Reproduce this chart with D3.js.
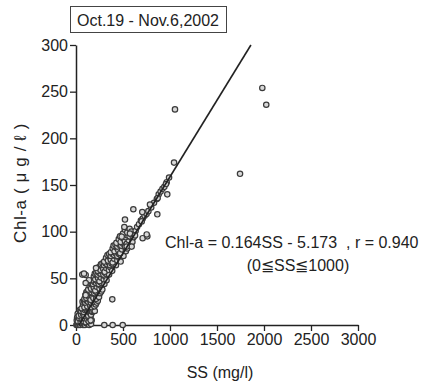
<!DOCTYPE html>
<html><head><meta charset="utf-8">
<script src="https://cdn.jsdelivr.net/npm/d3@7"></script>
<style>body{margin:0;background:#fff}svg{display:block}text{font-family:"Liberation Sans",Arial,sans-serif;fill:#222}</style>
</head><body>
<svg id="c" width="443" height="383"></svg>
<script>
const title = "Oct.19 - Nov.6,2002";
const xTicks = [0, 500, 1000, 1500, 2000, 2500, 3000];
const yTicks = [0, 50, 100, 150, 200, 250, 300];
const xLabel = "SS (mg/l)";
const yLabel = "Chl-a ( \u03BC g / \u2113 )";
const eqLine1 = "Chl-a = 0.164SS - 5.173  , r = 0.940";
const eqLine2 = "(0\u2266SS\u22661000)";
const slope = 0.164, intercept = -5.173;
// SS (mg/l)
const ss = [
 5,10,15,20,25,35,45,55,65,75,85,95,110,125,140,150,160,
 8,12,18,22,30,40,50,60,70,80,90,100,115,130,145,155,167,
 20,35,50,62,78,88,105,120,135,148,
 30,45,55,65,75,90,100,115,130,145,160,175,
 40,52,68,82,95,110,125,140,155,170,185,200,
 60,75,90,105,120,135,150,165,180,195,210,
 70,85,98,112,128,142,158,172,188,205,220,232,
 90,100,110,125,140,155,170,185,200,215,230,245,
 110,122,135,150,165,180,195,210,225,240,255,268,
 130,145,160,175,190,205,220,235,250,265,280,
 150,165,180,195,212,228,242,258,272,288,302,
 175,190,205,220,235,250,265,280,295,310,325,
 200,215,230,245,262,278,292,308,322,338,352,
 230,245,260,275,290,305,320,335,350,365,385,
 265,282,298,315,330,347,362,378,395,410,425,
 300,320,340,355,370,390,405,420,440,460,475,
 335,352,370,388,405,422,440,458,475,492,505,
 370,390,410,430,450,470,490,510,530,545,
 400,420,440,462,482,502,522,542,560,
 430,455,475,500,520,540,560,585,600,
 480,500,525,548,570,590,612,
 500,520,545,570,590,615,635,
 650,670,690,710,730,750,770,800,830,860,880,900,920,940,965,990,
 67,103,85,138,103,103,213,386,301,390,497,156,468,592,709,759,699,705,610,521,865,787,869,971,957,1043,1053,1745,1982,2024,
 486,539,574,628,752,514
];
// Chl-a (ug/l)
const chl = [
 0,1,0.5,2,0,1,0,2,1,0,1,0,2,1,0,3,1,
 5,8,12,6,4,3,6,4,8,5,3,7,5,6,8,6,5,
 4,7,3,6,4,7,3,6,4,7,
 10,14,11,15,12,10,14,12,10,13,11,14,
 16,15,17,14,16,17,15,16,17,15,16,15,
 18,22,19,23,20,24,21,19,23,20,22,
 25,26,24,26,25,27,24,26,25,27,24,26,
 28,32,29,33,30,27,31,29,33,28,31,30,
 35,36,34,36,35,37,34,36,35,37,34,36,
 38,42,39,43,40,37,41,44,39,42,38,
 45,46,44,46,45,47,44,46,45,47,44,
 48,52,49,53,50,47,51,54,49,52,48,
 55,56,54,56,55,57,54,56,55,57,54,
 58,62,59,63,60,57,61,64,59,62,58,
 65,66,64,66,65,67,64,66,65,67,64,
 68,72,69,73,70,67,71,74,69,72,68,
 75,76,74,76,75,77,74,76,75,77,74,
 78,82,79,83,80,77,81,84,79,82,
 85,86,84,86,85,87,84,86,85,
 88,92,89,93,90,87,91,94,89,
 95,96,94,96,95,97,94,
 98,102,99,103,100,97,101,
 105,108,112,114,117,119,122,126,131,135,140,143,146,148,153,158,
 54,53.6,55,48,45,32,61,27.5,0,0,0,5,95,84,93,95,111,121,124,113,118.6,129,136,140,151,174,231,162,254,236,
 94.6,84,98,96,97,105
];

const svg = d3.select("#c");
const x = d3.scaleLinear().domain([0, 3000]).range([76, 358]);
const y = d3.scaleLinear().domain([0, 300]).range([325, 45]);

// title box
const tb = svg.append("g");
tb.append("rect").attr("x", 70.5).attr("y", 6.5).attr("width", 156).attr("height", 26)
  .attr("fill", "none").attr("stroke", "#444").attr("stroke-width", 1);
tb.append("text").attr("x", 148).attr("y", 25.5).attr("text-anchor", "middle")
  .attr("font-size", 16).text(title);

// axes
const fmt = d3.format("d");
const xAxis = d3.axisBottom(x).tickValues(xTicks).tickFormat(fmt).tickSize(6).tickPadding(3).tickSizeOuter(0);
const yAxis = d3.axisLeft(y).tickValues(yTicks).tickFormat(fmt).tickSize(6).tickPadding(2).tickSizeOuter(0);
const gx = svg.append("g").attr("transform", `translate(0,${y(0)})`).call(xAxis);
const gy = svg.append("g").attr("transform", `translate(${x(0)},0)`).call(yAxis);
[gx, gy].forEach(g => {
  g.select(".domain").attr("stroke", "#222").attr("stroke-width", 1.5);
  g.selectAll(".tick line").attr("stroke", "#222").attr("stroke-width", 1.3);
  g.selectAll(".tick text").attr("font-size", 16).attr("fill", "#222")
    .attr("font-family", '"Liberation Sans",Arial,sans-serif');
});

// points
const pts = ss.map((v, i) => [v, chl[i]]);
svg.append("g").selectAll("circle").data(pts).join("circle")
  .attr("cx", d => x(d[0])).attr("cy", d => y(d[1])).attr("r", 2.7)
  .attr("fill", "#d8d8d8").attr("stroke", "#3a3a3a").attr("stroke-width", 1.2);

// regression line
const x0 = -intercept / slope, x1 = (300 - intercept) / slope;
svg.append("line").attr("x1", x(x0)).attr("y1", y(slope * x0 + intercept))
  .attr("x2", x(x1)).attr("y2", y(slope * x1 + intercept))
  .attr("stroke", "#222").attr("stroke-width", 1.6);

// equation
svg.append("text").attr("x", 165).attr("y", 248).attr("font-size", 16)
  .style("white-space", "pre").text(eqLine1);
svg.append("text").attr("x", 298).attr("y", 271).attr("text-anchor", "middle").attr("font-size", 16).text(eqLine2);

// axis labels
svg.append("text").attr("x", 220).attr("y", 378).attr("text-anchor", "middle").attr("font-size", 16).text(xLabel);
svg.append("text").attr("transform", "translate(26,183) rotate(-90)").attr("text-anchor", "middle")
  .attr("font-size", 17).attr("letter-spacing", 0.6).text(yLabel);
</script>
</body></html>
